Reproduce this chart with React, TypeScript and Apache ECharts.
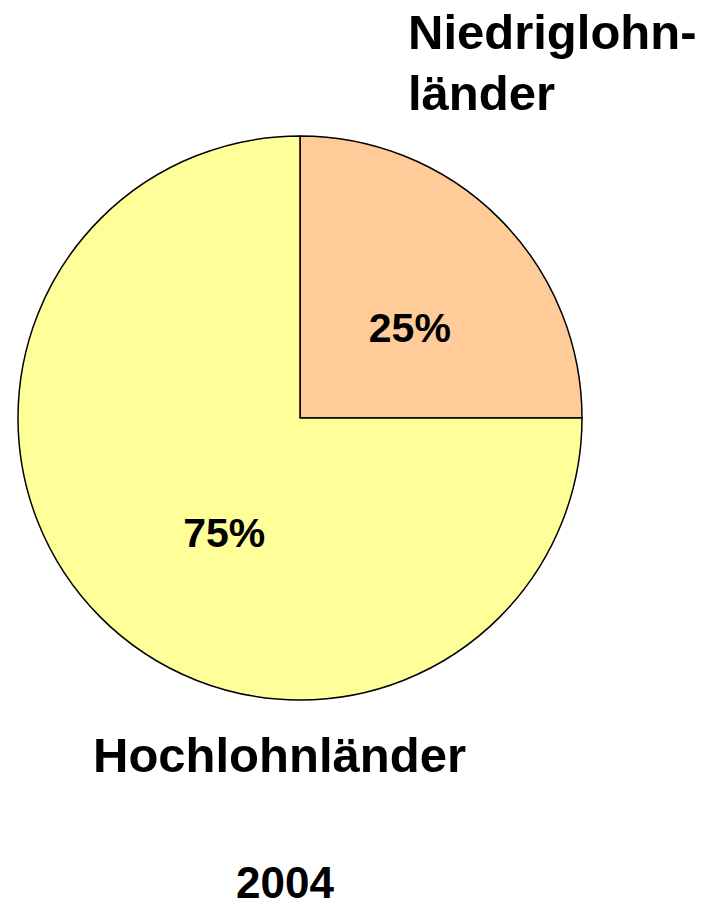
import React, { useEffect, useRef } from "react";
import * as echarts from "echarts";

const categories = ["Niedriglohnländer", "Hochlohnländer"];
const displayNames = ["Niedriglohn-\nländer", "Hochlohnländer"];
const shares = [25, 75];
const sliceColors = ["#FFCC99", "#FFFF99"];
const yearLabel = "2004";

const FONT = '"Liberation Sans", Arial, Helvetica, sans-serif';

export default function App() {
  const ref = useRef<HTMLDivElement>(null);
  useEffect(() => {
    if (!ref.current) return;
    const chart = echarts.init(ref.current, undefined, { renderer: "svg" });
    const labelOffsets = [
      [8, 12],
      [26, 13],
    ];
    chart.setOption({
      animation: false,
      backgroundColor: "#ffffff",
      graphic: [
        {
          type: "text",
          x: 408,
          y: 62,
          style: {
            text: displayNames[0],
            font: `bold 49px ${FONT}`,
            fill: "#000",
            align: "left",
            verticalAlign: "middle",
            lineHeight: 61,
          },
        },
        {
          type: "text",
          x: 93,
          y: 755,
          style: {
            text: displayNames[1],
            font: `bold 49px ${FONT}`,
            fill: "#000",
            align: "left",
            verticalAlign: "middle",
          },
        },
        {
          type: "text",
          x: 285,
          y: 882,
          style: {
            text: yearLabel,
            font: `bold 44px ${FONT}`,
            fill: "#000",
            align: "center",
            verticalAlign: "middle",
          },
        },
      ],
      series: [
        {
          type: "pie",
          center: [300, 418],
          radius: 282,
          startAngle: 90,
          clockwise: true,
          silent: true,
          avoidLabelOverlap: false,
          itemStyle: { borderColor: "#000", borderWidth: 1.5 },
          label: {
            show: true,
            position: "inside",
            formatter: "{c}%",
            fontFamily: FONT,
            fontWeight: "bold",
            fontSize: 41,
            color: "#000",
          },
          labelLine: { show: false },
          emphasis: { disabled: true },
          data: categories.map((name, i) => ({
            name,
            value: shares[i],
            itemStyle: { color: sliceColors[i] },
            label: { offset: labelOffsets[i] },
          })),
        },
      ],
    });
    return () => chart.dispose();
  }, []);
  return (
    <div
      ref={ref}
      style={{ position: "fixed", left: 0, top: 0, width: 715, height: 909 }}
    />
  );
}
